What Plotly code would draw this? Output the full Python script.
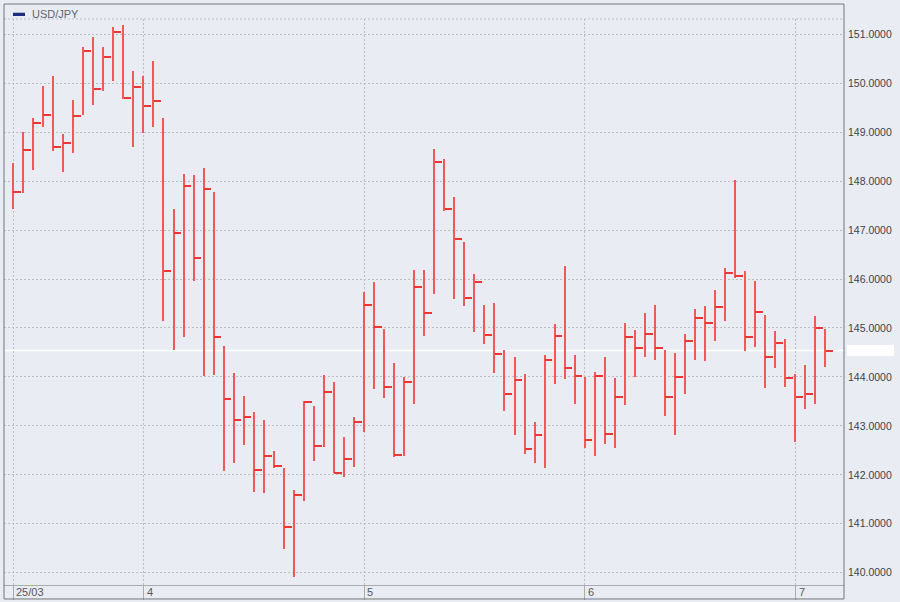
"""
USD/JPY daily bar chart (close tick only), March - July 2025
"""

import pandas as pd
import plotly.graph_objects as go

# trading days shown on the chart (weekdays only)
dates = [d.strftime("%Y-%m-%d") for d in pd.bdate_range("2025-03-13", "2025-07-04")]

highs = [
    148.38, 149.01, 149.28, 149.94, 150.15, 148.96, 149.66, 150.75, 150.94, 150.75,
    151.14, 151.20, 150.26, 150.15, 150.45, 149.30, 147.43, 148.14, 148.13, 148.27,
    147.78, 144.63, 144.09, 143.61, 143.29, 143.11, 142.49, 142.13, 141.68, 143.51,
    143.41, 144.04, 143.89, 142.77, 143.18, 145.74, 145.93, 144.97, 144.28, 143.99,
    146.18, 146.18, 148.65, 148.45, 147.67, 146.76, 146.10, 145.46, 145.51, 144.56,
    144.40, 144.07, 143.08, 144.45, 145.08, 146.27, 144.45, 144.00, 144.11, 144.40,
    143.98, 145.10, 144.96, 145.30, 145.46, 144.56, 144.48, 144.88, 145.38, 145.44,
    145.78, 146.22, 148.02, 146.17, 145.96, 145.27, 144.94, 144.77, 144.07, 144.24,
    145.25, 144.97,
]
lows = [
    147.43, 147.75, 148.23, 149.10, 148.62, 148.18, 148.58, 149.35, 149.56, 149.85,
    150.05, 149.68, 148.70, 148.99, 149.10, 145.15, 144.56, 144.82, 145.97, 144.01,
    144.03, 142.08, 142.24, 142.60, 141.64, 141.62, 142.13, 140.48, 139.91, 141.47,
    142.28, 142.56, 142.03, 141.96, 142.17, 142.88, 143.75, 143.56, 142.36, 142.39,
    143.45, 144.84, 145.70, 147.39, 145.60, 145.44, 144.92, 144.67, 144.09, 143.30,
    142.81, 142.42, 142.24, 142.13, 143.86, 143.96, 143.45, 142.55, 142.39, 142.62,
    142.55, 143.43, 143.99, 144.40, 144.34, 143.20, 142.81, 143.66, 144.35, 144.32,
    144.73, 145.14, 146.02, 144.53, 144.62, 143.77, 144.18, 143.79, 142.68, 143.34,
    143.45, 144.20,
]
closes = [
    147.77, 148.63, 149.18, 149.36, 148.70, 148.78, 149.33, 150.65, 149.89, 150.53,
    151.04, 149.70, 149.93, 149.53, 149.64, 146.16, 146.94, 147.90, 146.42, 147.83,
    144.81, 143.54, 143.13, 143.18, 142.10, 142.39, 142.19, 140.93, 141.58, 143.49,
    142.59, 143.70, 142.03, 142.32, 143.07, 145.47, 145.03, 143.79, 142.40, 143.90,
    145.83, 145.31, 148.40, 147.43, 146.82, 145.61, 145.93, 144.86, 144.46, 143.65,
    143.93, 142.52, 142.82, 144.35, 144.83, 144.18, 144.01, 142.71, 144.01, 142.83,
    143.60, 144.81, 144.59, 144.88, 144.59, 143.58, 144.00, 144.74, 145.21, 145.11,
    145.42, 146.13, 146.06, 144.81, 145.32, 144.41, 144.69, 143.98, 143.58, 143.65,
    144.99, 144.54,
]

# month markers on the time axis
month_dates = ["2025-03-13", "2025-04-01", "2025-05-01", "2025-06-02", "2025-07-01"]
month_labels = ["25/03", "4", "5", "6", "7"]

y_ticks = list(range(140, 152))

BG = "#e9ecf3"
RED = "#f03535"
GRID = "#bcbec3"
FRAME = "#72757a"

TICK_H = 0.021  # close tick thickness in price units (~1px)


def create_bar_chart():
    fig = go.Figure()

    # high-low ranges
    fig.add_trace(go.Bar(
        x=dates,
        base=lows,
        y=[h - l for h, l in zip(highs, lows)],
        width=0.15,
        marker=dict(color="#f25858", line=dict(width=0)),
        name="USD/JPY",
        showlegend=False,
        hoverinfo="skip",
    ))
    # close ticks, drawn to the right of each bar
    fig.add_trace(go.Bar(
        x=dates,
        base=[c - TICK_H / 2 for c in closes],
        y=[TICK_H] * len(closes),
        width=0.75,
        offset=0,
        marker=dict(color=RED, line=dict(width=0)),
        showlegend=False,
        customdata=closes,
        hovertemplate="%{x}<br>%{customdata:.4f}<extra></extra>",
    ))

    last = closes[-1]
    shapes = [
        # current price line
        dict(type="line", xref="paper", x0=0, x1=1, yref="y", y0=last, y1=last,
             line=dict(color="white", width=1.5), layer="between"),
        # blank price box on the axis
        dict(type="rect", xref="paper", x0=1.0036, x1=1.0595, yref="y",
             y0=last - 0.112, y1=last + 0.112, fillcolor="white", line=dict(width=0)),
        # dotted line under the legend strip
        dict(type="line", xref="paper", x0=0, x1=1, yref="paper", y0=1, y1=1,
             line=dict(color=GRID, width=1, dash="2px,2px")),
        # outer frame
        dict(type="rect", xref="paper", x0=0, x1=1, yref="paper", y0=-0.0247, y1=1.0265,
             line=dict(color=FRAME, width=1)),
        # legend swatch
        dict(type="rect", xref="paper", x0=0.0107, x1=0.025, yref="paper",
             y0=1.0053, y1=1.0111, fillcolor="#1a2f7f", line=dict(width=0)),
    ]

    annotations = [
        dict(text="USD/JPY", xref="paper", yref="paper", x=0.031, y=1.008,
             xanchor="left", yanchor="middle", showarrow=False,
             font=dict(size=11, color="#5c6470")),
    ]
    for d, lab in zip(month_dates, month_labels):
        annotations.append(dict(
            text=lab, xref="x", yref="paper", x=d, y=-0.0124,
            xanchor="left", yanchor="middle", xshift=1, showarrow=False,
            font=dict(size=11, color="#555a60"),
        ))

    fig.update_layout(
        width=900,
        height=602,
        margin=dict(l=4, r=56, t=19, b=17),
        paper_bgcolor=BG,
        plot_bgcolor=BG,
        barmode="overlay",
        bargap=0,
        showlegend=False,
        font=dict(family="Liberation Sans, Arial, sans-serif", size=11, color="#444"),
        shapes=shapes,
        annotations=annotations,
        xaxis=dict(
            type="category",
            categoryorder="array",
            categoryarray=dates,
            range=[-0.927, 82.83],
            tickvals=month_dates,
            showticklabels=False,
            ticks="outside",
            ticklen=14,
            tickcolor="#a9abaf",
            showgrid=True,
            gridcolor=GRID,
            griddash="2px,2px",
            showline=True,
            linecolor="#a9abaf",
            zeroline=False,
            fixedrange=True,
        ),
        yaxis=dict(
            side="right",
            range=[139.749, 151.3126],
            tickvals=y_ticks,
            tickformat=".4f",
            ticks="",
            ticklabelstandoff=3,
            showgrid=True,
            gridcolor=GRID,
            griddash="2px,2px",
            zeroline=False,
            showline=False,
            tickfont=dict(size=10.5, color="#3f4347"),
            fixedrange=True,
        ),
    )
    return fig


fig = create_bar_chart()
# drop the default page margin so the chart sits at the window's top-left corner
fig.write_html(
    "out.html",
    config={"displayModeBar": False},
    post_script="document.body.style.margin = '0';",
)
